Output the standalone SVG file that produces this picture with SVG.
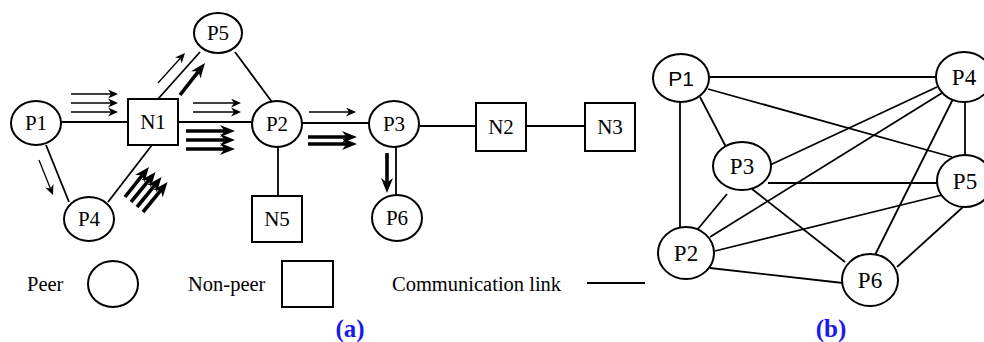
<svg xmlns="http://www.w3.org/2000/svg" width="984" height="342" viewBox="0 0 984 342">
  <style>
    .node { fill: #fff; stroke: #000; stroke-width: 2; }
    .link { stroke: #000; stroke-width: 1.8; fill: none; }
    .lbl { font-family: "Liberation Serif", "Times New Roman", serif; font-size: 21px; fill: #000; text-anchor: middle; }
    .lblb { font-family: "Liberation Serif", "Times New Roman", serif; font-size: 23px; fill: #000; text-anchor: middle; }
    .sans { font-family: "Liberation Sans", Arial, sans-serif; font-size: 21px; fill: #000; text-anchor: middle; }
    .legend { font-family: "Liberation Serif", "Times New Roman", serif; font-size: 20.5px; fill: #000; }
    .cap { font-family: "Liberation Serif", "Times New Roman", serif; font-size: 25px; font-weight: bold; fill: #1a1aee; text-anchor: middle; }
    .flow { stroke: #000; stroke-width: 1.3; fill: none; marker-end: url(#head-thin); }
    .flowb { stroke: #000; stroke-width: 3.6; fill: none; marker-end: url(#head-thick); }
  </style>
  <defs>
    <marker id="head-thin" viewBox="0 0 10 10" refX="3" refY="5" markerWidth="10" markerHeight="9" markerUnits="userSpaceOnUse" orient="auto" preserveAspectRatio="none">
      <path d="M0,0 L10,5 L0,10 L3,5 z" fill="#000"/>
    </marker>
    <marker id="head-thick" viewBox="0 0 10 10" refX="3" refY="5" markerWidth="15" markerHeight="12" markerUnits="userSpaceOnUse" orient="auto" preserveAspectRatio="none">
      <path d="M0,0 L10,5 L0,10 L3,5 z" fill="#000"/>
    </marker>
  </defs>
  <rect width="984" height="342" fill="#fff"/>

  <!-- (a) communication links -->
  <g id="links-a">
    <line class="link" x1="61" y1="122" x2="128" y2="122"/>
    <line class="link" x1="178" y1="122" x2="252" y2="122"/>
    <line class="link" x1="302" y1="123" x2="369" y2="123"/>
    <line class="link" x1="419" y1="126" x2="476" y2="126"/>
    <line class="link" x1="526" y1="126" x2="585" y2="126"/>
    <line class="link" x1="278" y1="147" x2="278" y2="196"/>
    <line class="link" x1="396" y1="147" x2="396" y2="195"/>
    <line class="link" x1="235" y1="52" x2="272" y2="102"/>
    <line class="link" x1="158" y1="99" x2="200" y2="52"/>
    <line class="link" x1="46" y1="145" x2="69" y2="202"/>
    <line class="link" x1="152" y1="145" x2="108" y2="202"/>
  </g>

  <!-- (a) traffic flow arrows -->
  <g id="flows-a">
    <line class="flow" x1="71" y1="94" x2="111" y2="94"/>
    <line class="flow" x1="71" y1="103" x2="111" y2="103"/>
    <line class="flow" x1="71" y1="112" x2="111" y2="112"/>
    <line class="flow" x1="193" y1="103" x2="234" y2="103"/>
    <line class="flow" x1="193" y1="112" x2="234" y2="112"/>
    <line class="flowb" x1="186" y1="131" x2="224.5" y2="131"/>
    <line class="flowb" x1="186" y1="140" x2="224.5" y2="140"/>
    <line class="flowb" x1="186" y1="149" x2="224.5" y2="149"/>
    <line class="flow" x1="309" y1="112" x2="349" y2="112"/>
    <line class="flowb" x1="308" y1="137" x2="346.5" y2="137"/>
    <line class="flowb" x1="308" y1="144" x2="346.5" y2="144"/>
    <line class="flowb" x1="387" y1="153" x2="387" y2="182.5"/>
    <line class="flow" x1="39" y1="160" x2="50.4" y2="188.5"/>
    <line class="flow" x1="158" y1="83" x2="180.3" y2="58.2"/>
    <line class="flowb" x1="180" y1="95" x2="198.5" y2="71.3"/>
    <line class="flowb" x1="125" y1="197" x2="142.4" y2="175.2"/>
    <line class="flowb" x1="131" y1="202" x2="148.9" y2="180.2"/>
    <line class="flowb" x1="137" y1="207" x2="154.9" y2="185.2"/>
    <line class="flowb" x1="143" y1="212" x2="160.9" y2="190.2"/>
  </g>

  <!-- (a) nodes -->
  <g id="a-P1"><ellipse class="node" cx="36" cy="123" rx="25" ry="22"/><text class="lbl" x="36" y="130">P1</text></g>
  <g id="a-N1"><rect class="node" x="128" y="99" width="50" height="46"/><text class="lbl" x="153" y="129">N1</text></g>
  <g id="a-P5"><ellipse class="node" cx="218" cy="33" rx="24" ry="20"/><text class="lbl" x="218" y="40">P5</text></g>
  <g id="a-P2"><ellipse class="node" cx="277" cy="124" rx="25" ry="23"/><text class="lbl" x="277" y="131">P2</text></g>
  <g id="a-P4"><ellipse class="node" cx="89" cy="219" rx="25" ry="22"/><text class="lbl" x="89" y="226">P4</text></g>
  <g id="a-N5"><rect class="node" x="252" y="196" width="50" height="46"/><text class="lbl" x="277" y="226">N5</text></g>
  <g id="a-P3"><ellipse class="node" cx="394" cy="124" rx="25" ry="23"/><text class="lbl" x="394" y="131">P3</text></g>
  <g id="a-P6"><ellipse class="node" cx="397" cy="218" rx="25" ry="23"/><text class="lbl" x="397" y="225">P6</text></g>
  <g id="a-N2"><rect class="node" x="476" y="103" width="50" height="48"/><text class="lbl" x="501" y="134">N2</text></g>
  <g id="a-N3"><rect class="node" x="585" y="103" width="50" height="48"/><text class="lbl" x="610" y="134">N3</text></g>

  <!-- legend -->
  <g id="legend">
    <text class="legend" x="27" y="291">Peer</text>
    <ellipse class="node" cx="113" cy="284" rx="25" ry="23"/>
    <text class="legend" x="188" y="291">Non-peer</text>
    <rect class="node" x="282" y="261" width="51" height="46"/>
    <text class="legend" x="392" y="291">Communication link</text>
    <line class="link" x1="587" y1="283" x2="645" y2="283"/>
  </g>
  <text class="cap" x="350" y="337">(a)</text>

  <!-- (b) overlay links -->
  <g id="links-b">
    <line class="link" x1="708" y1="77" x2="936" y2="77"/>
    <line class="link" x1="680" y1="102" x2="680" y2="227"/>
    <line class="link" x1="700" y1="97" x2="726" y2="147"/>
    <line class="link" x1="708" y1="89" x2="952" y2="157"/>
    <line class="link" x1="770" y1="165" x2="937" y2="87"/>
    <line class="link" x1="710" y1="237" x2="942" y2="93"/>
    <line class="link" x1="768" y1="183" x2="937" y2="183"/>
    <line class="link" x1="965" y1="98" x2="965" y2="155"/>
    <line class="link" x1="955" y1="95" x2="875" y2="255"/>
    <line class="link" x1="727" y1="194" x2="697" y2="230"/>
    <line class="link" x1="752" y1="189" x2="845" y2="262"/>
    <line class="link" x1="715" y1="251" x2="942" y2="195"/>
    <line class="link" x1="710" y1="268" x2="843" y2="283"/>
    <line class="link" x1="963" y1="207" x2="897" y2="267"/>
  </g>

  <!-- (b) nodes -->
  <g id="b-P1"><ellipse class="node" cx="681" cy="78" rx="28" ry="24"/><text class="sans" x="681" y="86">P1</text></g>
  <g id="b-P4"><ellipse class="node" cx="964" cy="77" rx="28" ry="25"/><text class="lblb" x="964" y="85">P4</text></g>
  <g id="b-P3"><ellipse class="node" cx="742" cy="166" rx="29" ry="24"/><text class="lblb" x="742" y="174">P3</text></g>
  <g id="b-P5"><ellipse class="node" cx="965" cy="181" rx="28" ry="26"/><text class="lblb" x="965" y="189">P5</text></g>
  <g id="b-P2"><ellipse class="node" cx="686" cy="253" rx="28" ry="26"/><text class="lblb" x="686" y="261">P2</text></g>
  <g id="b-P6"><ellipse class="node" cx="870" cy="280" rx="28" ry="26"/><text class="lblb" x="870" y="288">P6</text></g>
  <text class="cap" x="831" y="337">(b)</text>
</svg>
